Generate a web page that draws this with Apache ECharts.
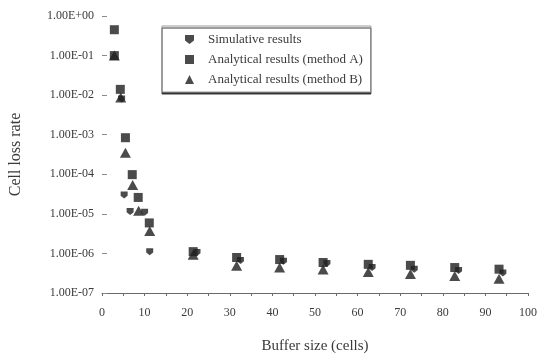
<!DOCTYPE html>
<html>
<head>
<meta charset="utf-8">
<script src="https://cdn.jsdelivr.net/npm/echarts@6/dist/echarts.min.js"></script>
<style>
  html, body { margin: 0; padding: 0; background: #ffffff; }
  #chart { width: 547px; height: 359px; }
</style>
</head>
<body>
<div id="chart"></div>
<script>
// Series names
const seriesNames = ['Simulative results', 'Analytical results (method A)', 'Analytical results (method B)'];

// Simulative results: buffer size (cells) and cell loss rate
const bufferSim = [4.6, 5.2, 6.6, 10.0, 11.2, 22.3, 32.5, 42.6, 52.8, 63.4, 73.3, 83.7, 94.1];
const lossSim   = [8.0e-3, 3.0e-5, 1.15e-5, 1.1e-5, 1.1e-6, 1.05e-6, 6.6e-7, 6.3e-7, 5.6e-7, 4.4e-7, 4.0e-7, 3.7e-7, 3.2e-7];

// Analytical results, method A
const bufferA = [2.9, 2.9, 4.3, 5.5, 7.1, 8.5, 11.1, 21.4, 31.6, 41.7, 51.9, 62.5, 72.4, 82.8, 93.2];
const lossA   = [0.45, 0.1, 1.4e-2, 8.4e-4, 9.8e-5, 2.6e-5, 5.9e-6, 1.11e-6, 7.9e-7, 7.0e-7, 5.9e-7, 5.3e-7, 5.0e-7, 4.4e-7, 4.0e-7];

// Analytical results, method B
const bufferB = [2.9, 4.4, 5.5, 7.2, 8.6, 11.2, 21.4, 31.6, 41.7, 51.9, 62.5, 72.4, 82.8, 93.2];
const lossB   = [0.1, 8.7e-3, 3.5e-4, 5.4e-5, 1.2e-5, 3.7e-6, 9.3e-7, 4.9e-7, 4.4e-7, 3.9e-7, 3.4e-7, 3.0e-7, 2.7e-7, 2.3e-7];

// Tick labels
const yTickLabels = ['1.00E-07', '1.00E-06', '1.00E-05', '1.00E-04', '1.00E-03', '1.00E-02', '1.00E-01', '1.00E+00'];
const xTickLabels = ['0', '10', '20', '30', '40', '50', '60', '70', '80', '90', '100'];

const pairs = (xs, ys) => xs.map((x, i) => [x, ys[i]]);

const textColor = '#3a3a3a';
const markColor = '#1e1e1e';
const serif = '"Liberation Serif", "DejaVu Serif", serif';
const pentagon = 'path://M0,0 L10,0 L10,6 L5,10 L0,6 Z';

const chart = echarts.init(document.getElementById('chart'), null, { renderer: 'canvas' });

chart.setOption({
  backgroundColor: '#ffffff',
  animation: false,
  grid: { left: 95, right: 19, top: 16, bottom: 59 },
  legend: {
    orient: 'vertical',
    left: 162,
    top: 26,
    padding: [7, 8, 6, 23],
    itemGap: 7,
    itemWidth: 9,
    itemHeight: 9,
    backgroundColor: '#ffffff',
    borderColor: '#9a9a9a',
    borderWidth: 1,
    shadowColor: 'rgba(40,40,40,0.9)',
    shadowBlur: 0,
    shadowOffsetX: 0,
    shadowOffsetY: 2,
    textStyle: { fontFamily: serif, fontSize: 13, color: textColor, padding: [0, 0, 0, 9] },
    data: seriesNames
  },
  xAxis: {
    type: 'value',
    min: 0,
    max: 100,
    interval: 5,
    name: 'Buffer size (cells)',
    nameLocation: 'middle',
    nameGap: 46,
    nameTextStyle: { fontFamily: serif, fontSize: 15, color: textColor },
    axisLine: { show: true, lineStyle: { color: '#6a6a6a', width: 1 } },
    axisTick: { show: true, length: 3, lineStyle: { color: '#6a6a6a' } },
    axisLabel: {
      fontFamily: serif, fontSize: 12, color: textColor, margin: 14,
      formatter: v => (v % 10 === 0 ? xTickLabels[v / 10] : '')
    },
    splitLine: { show: false }
  },
  yAxis: {
    type: 'log',
    logBase: 10,
    min: 1e-7,
    max: 1,
    name: 'Cell loss rate',
    nameLocation: 'middle',
    nameGap: 78,
    nameTextStyle: { fontFamily: serif, fontSize: 16, color: textColor },
    axisLine: { show: false },
    axisTick: { show: true, inside: true, length: 5, lineStyle: { color: '#8a8a8a' } },
    axisLabel: {
      fontFamily: serif, fontSize: 12, color: textColor, margin: 8,
      formatter: v => yTickLabels[Math.round(Math.log10(v)) + 7]
    },
    splitLine: { show: false }
  },
  series: [
    {
      name: seriesNames[0],
      type: 'scatter',
      symbol: pentagon,
      symbolSize: 7,
      itemStyle: { color: markColor },
      data: pairs(bufferSim, lossSim),
      z: 3
    },
    {
      name: seriesNames[1],
      type: 'scatter',
      symbol: 'rect',
      symbolSize: 9,
      itemStyle: { color: markColor },
      data: pairs(bufferA, lossA),
      z: 2
    },
    {
      name: seriesNames[2],
      type: 'scatter',
      symbol: 'triangle',
      symbolSize: [11, 10],
      itemStyle: { color: markColor },
      data: pairs(bufferB, lossB),
      z: 2
    }
  ]
});
</script>
</body>
</html>
